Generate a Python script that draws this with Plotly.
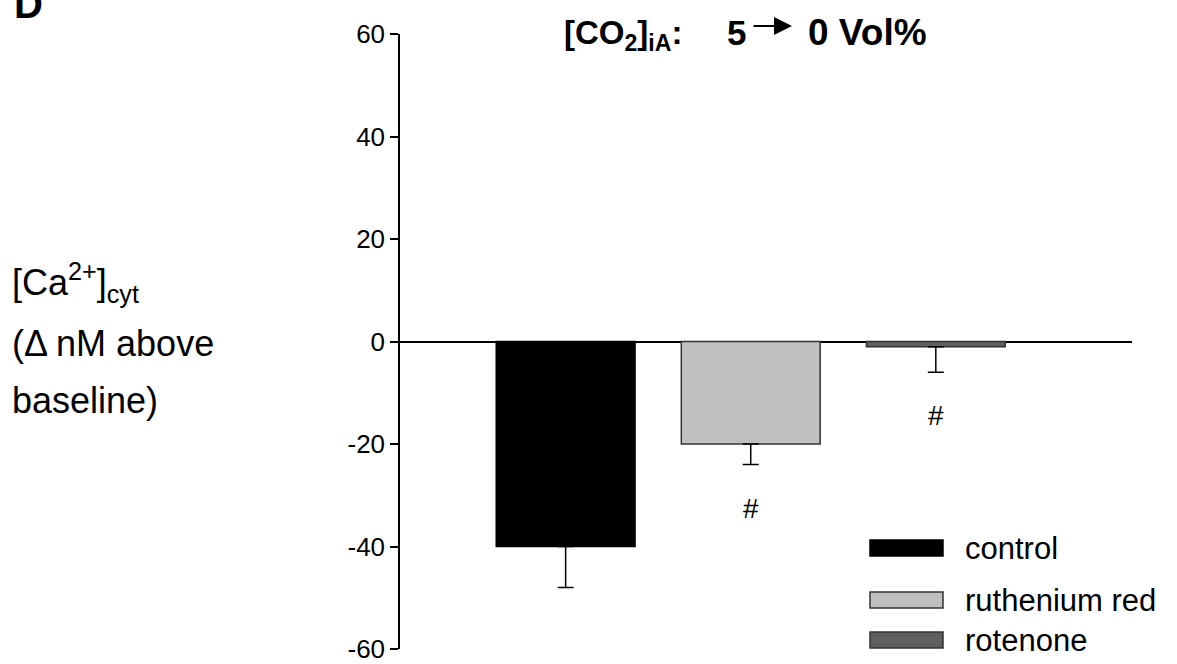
import plotly.graph_objects as go

# Data
groups = ["control", "ruthenium red", "rotenone"]
means = [-40, -20, -1]
sem = [8, 4, 5]
bar_colors = ["#000000", "#c0c0c0", "#606060"]
line_colors = ["#000000", "#333333", "#333333"]
significance = ["", "#", "#"]
ytick_vals = [-60, -40, -20, 0, 20, 40, 60]
ytick_text = ["-60", "-40", "-20", "0", "20", "40", "60"]

W, H = 1177, 664
L, R, T, B = 400, 45, 34, 15
PW, PH = W - L - R, H - T - B


def px(x):
    return (x - L) / PW


def py(y):
    return (H - B - y) / PH


FONT = "Liberation Sans, Arial, sans-serif"
xpos = [1, 2, 3]

fig = go.Figure()
fig.add_trace(go.Bar(
    x=xpos, y=means, width=0.75,
    marker=dict(color=bar_colors, line=dict(color=line_colors, width=1.5)),
    error_y=dict(type="data", symmetric=False, array=[0, 0, 0], arrayminus=sem,
                 color="#000000", thickness=1.5, width=8),
    showlegend=False, hoverinfo="skip",
))

annotations = []
# significance marks below the error bars
for x, m, e, s in zip(xpos, means, sem, significance):
    if s:
        annotations.append(dict(x=x, y=m - e - 8.5, xref="x", yref="y", text=s,
                                showarrow=False, xanchor="center", yanchor="middle",
                                font=dict(family=FONT, size=28, color="black")))

# panel letter
annotations.append(dict(x=px(12), y=py(28), xref="paper", yref="paper", text="<b>D</b>",
                        showarrow=False, xanchor="left", yanchor="bottom",
                        font=dict(family=FONT, size=40, color="black")))

# condition title: gas label, start value, arrow, end value
annotations.append(dict(x=px(684), y=py(35), xref="paper", yref="paper",
                        text="<b>[CO<sub>2</sub>]<sub>iA</sub>:</b>",
                        showarrow=False, xanchor="right", yanchor="middle",
                        font=dict(family=FONT, size=33, color="black")))
annotations.append(dict(x=px(725), y=py(32), xref="paper", yref="paper",
                        text="<b>5</b>",
                        showarrow=False, xanchor="left", yanchor="middle",
                        font=dict(family=FONT, size=35, color="black")))
annotations.append(dict(x=px(792), y=py(26), xref="paper", yref="paper",
                        ax=-40, ay=0, text="", showarrow=True,
                        arrowhead=2, arrowsize=1.8, arrowwidth=2, arrowcolor="black"))
annotations.append(dict(x=px(806), y=py(32), xref="paper", yref="paper",
                        text="<b>0 Vol%</b>",
                        showarrow=False, xanchor="left", yanchor="middle",
                        font=dict(family=FONT, size=37, color="black")))

# y-axis label, three lines
ylab = ["[Ca<sup>2+</sup>]<sub>cyt</sub>", "(\u0394 nM above", "baseline)"]
ylab_y = [282, 343, 400]
for t, yy in zip(ylab, ylab_y):
    annotations.append(dict(x=px(10), y=py(yy), xref="paper", yref="paper", text=t,
                            showarrow=False, xanchor="left", yanchor="middle",
                            font=dict(family=FONT, size=36, color="black")))

# legend drawn as swatches and labels
shapes = []
leg_y = [548, 600, 640]
for g, c, lc, yy in zip(groups, bar_colors, line_colors, leg_y):
    shapes.append(dict(type="rect", xref="paper", yref="paper",
                       x0=px(870), x1=px(943), y0=py(yy - 8), y1=py(yy + 8),
                       fillcolor=c, line=dict(color=lc, width=1.5)))
    annotations.append(dict(x=px(963), y=py(yy), xref="paper", yref="paper", text=g,
                            showarrow=False, xanchor="left", yanchor="middle",
                            font=dict(family=FONT, size=31, color="black")))

fig.update_layout(
    width=W, height=H,
    margin=dict(l=L, r=R, t=T, b=B, autoexpand=False),
    paper_bgcolor="white", plot_bgcolor="white",
    showlegend=False,
    annotations=annotations, shapes=shapes,
    xaxis=dict(range=[0.105, 4.06], visible=False, showgrid=False, zeroline=False,
               automargin=False),
    yaxis=dict(range=[-60, 60], tickvals=ytick_vals, ticktext=ytick_text,
               automargin=False,
               showline=True, linecolor="black", linewidth=1.5,
               ticks="outside", ticklen=8, tickwidth=1.5, tickcolor="black",
               ticklabeloverflow="allow",
               showgrid=False, zeroline=True, zerolinecolor="black", zerolinewidth=1.5,
               tickfont=dict(family=FONT, size=26, color="black")),
)

fig.write_html("out.html")
